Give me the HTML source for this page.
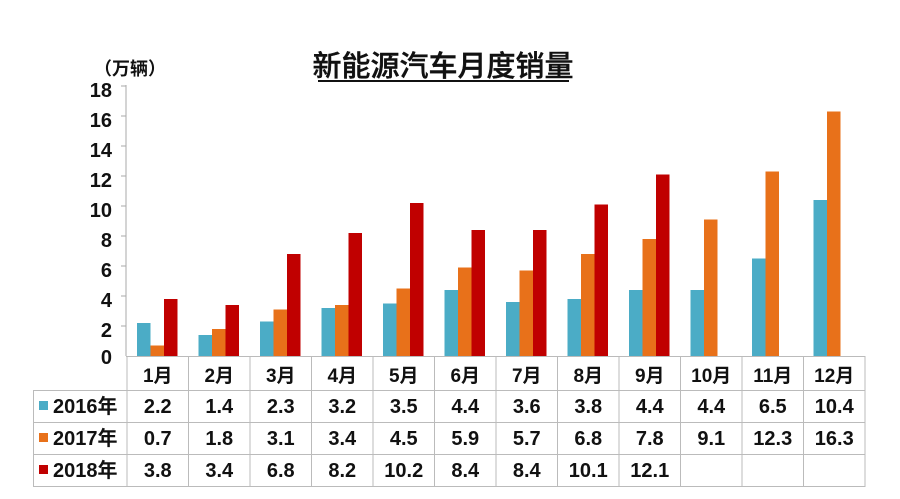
<!DOCTYPE html>
<html><head><meta charset="utf-8"><style>
html,body{margin:0;padding:0;background:#fff;}
svg{display:block;}
text{font-family:"Liberation Sans","Noto Sans CJK SC",sans-serif;font-weight:bold;fill:#111;}
</style></head><body>
<svg width="900" height="499" viewBox="0 0 900 499" xmlns="http://www.w3.org/2000/svg">
<text x="443" y="76" font-size="29" text-anchor="middle" style="font-weight:500" stroke="#111" stroke-width="0.4">新能源汽车月度销量</text>
<line x1="318" y1="81" x2="569" y2="81" stroke="#111" stroke-width="2"/>
<text x="94" y="75" font-size="18">（万辆）</text>
<g font-size="20" text-anchor="end">
<text x="112" y="97">18</text><text x="112" y="127">16</text><text x="112" y="157">14</text>
<text x="112" y="187">12</text><text x="112" y="217">10</text><text x="112" y="247">8</text>
<text x="112" y="277">6</text><text x="112" y="307">4</text><text x="112" y="337">2</text>
<text x="112" y="364">0</text>
</g>
<g stroke="#aaa" stroke-width="1">
<line x1="126" y1="85" x2="126" y2="356"/>
<line x1="121" y1="86" x2="126" y2="86"/><line x1="121" y1="116" x2="126" y2="116"/>
<line x1="121" y1="146" x2="126" y2="146"/><line x1="121" y1="176" x2="126" y2="176"/>
<line x1="121" y1="206" x2="126" y2="206"/><line x1="121" y1="236" x2="126" y2="236"/>
<line x1="121" y1="266" x2="126" y2="266"/><line x1="121" y1="296" x2="126" y2="296"/>
<line x1="121" y1="326" x2="126" y2="326"/>
</g>
<g transform="translate(0,356) scale(1,-1)">
<g fill="#4bacc6">
<rect x="137" y="0" width="13.5" height="33"/><rect x="198.5" y="0" width="13.5" height="21"/>
<rect x="260" y="0" width="13.5" height="34.5"/><rect x="321.5" y="0" width="13.5" height="48"/>
<rect x="383" y="0" width="13.5" height="52.5"/><rect x="444.5" y="0" width="13.5" height="66"/>
<rect x="506" y="0" width="13.5" height="54"/><rect x="567.5" y="0" width="13.5" height="57"/>
<rect x="629" y="0" width="13.5" height="66"/><rect x="690.5" y="0" width="13.5" height="66"/>
<rect x="752" y="0" width="13.5" height="97.5"/><rect x="813.5" y="0" width="13.5" height="156"/>
</g>
<g fill="#e8711a">
<rect x="150.5" y="0" width="13.5" height="10.5"/><rect x="212" y="0" width="13.5" height="27"/>
<rect x="273.5" y="0" width="13.5" height="46.5"/><rect x="335" y="0" width="13.5" height="51"/>
<rect x="396.5" y="0" width="13.5" height="67.5"/><rect x="458" y="0" width="13.5" height="88.5"/>
<rect x="519.5" y="0" width="13.5" height="85.5"/><rect x="581" y="0" width="13.5" height="102"/>
<rect x="642.5" y="0" width="13.5" height="117"/><rect x="704" y="0" width="13.5" height="136.5"/>
<rect x="765.5" y="0" width="13.5" height="184.5"/><rect x="827" y="0" width="13.5" height="244.5"/>
</g>
<g fill="#c00000">
<rect x="164" y="0" width="13.5" height="57"/><rect x="225.5" y="0" width="13.5" height="51"/>
<rect x="287" y="0" width="13.5" height="102"/><rect x="348.5" y="0" width="13.5" height="123"/>
<rect x="410" y="0" width="13.5" height="153"/><rect x="471.5" y="0" width="13.5" height="126"/>
<rect x="533" y="0" width="13.5" height="126"/><rect x="594.5" y="0" width="13.5" height="151.5"/>
<rect x="656" y="0" width="13.5" height="181.5"/>
</g>
</g>
<g stroke="#bbb" stroke-width="1">
<line x1="126" y1="356.5" x2="865" y2="356.5"/>
<line x1="33" y1="390.5" x2="865" y2="390.5"/>
<line x1="33" y1="422.5" x2="865" y2="422.5"/>
<line x1="33" y1="454.5" x2="865" y2="454.5"/>
<line x1="33" y1="486.5" x2="865" y2="486.5"/>
<line x1="33.5" y1="390" x2="33.5" y2="487"/>
<line x1="127" y1="356" x2="127" y2="487"/><line x1="188.5" y1="356" x2="188.5" y2="487"/>
<line x1="250" y1="356" x2="250" y2="487"/><line x1="311.5" y1="356" x2="311.5" y2="487"/>
<line x1="373" y1="356" x2="373" y2="487"/><line x1="434.5" y1="356" x2="434.5" y2="487"/>
<line x1="496" y1="356" x2="496" y2="487"/><line x1="557.5" y1="356" x2="557.5" y2="487"/>
<line x1="619" y1="356" x2="619" y2="487"/><line x1="680.5" y1="356" x2="680.5" y2="487"/>
<line x1="742" y1="356" x2="742" y2="487"/><line x1="803.5" y1="356" x2="803.5" y2="487"/>
<line x1="865" y1="356" x2="865" y2="487"/>
</g>
<g font-size="19" text-anchor="middle">
<text x="157.75" y="382">1月</text><text x="219.25" y="382">2月</text><text x="280.75" y="382">3月</text>
<text x="342.25" y="382">4月</text><text x="403.75" y="382">5月</text><text x="465.25" y="382">6月</text>
<text x="526.75" y="382">7月</text><text x="588.25" y="382">8月</text><text x="649.75" y="382">9月</text>
<text x="711.25" y="382">10月</text><text x="772.75" y="382">11月</text><text x="834.25" y="382">12月</text>
</g>
<rect x="39" y="401" width="9" height="9" fill="#4bacc6"/>
<rect x="39" y="433" width="9" height="9" fill="#e8711a"/>
<rect x="39" y="465" width="9" height="9" fill="#c00000"/>
<g font-size="20">
<text x="53" y="413">2016年</text><text x="53" y="445">2017年</text><text x="53" y="477">2018年</text>
</g>
<g font-size="20" text-anchor="middle">
<text x="157.75" y="413">2.2</text><text x="219.25" y="413">1.4</text><text x="280.75" y="413">2.3</text>
<text x="342.25" y="413">3.2</text><text x="403.75" y="413">3.5</text><text x="465.25" y="413">4.4</text>
<text x="526.75" y="413">3.6</text><text x="588.25" y="413">3.8</text><text x="649.75" y="413">4.4</text>
<text x="711.25" y="413">4.4</text><text x="772.75" y="413">6.5</text><text x="834.25" y="413">10.4</text>
<text x="157.75" y="445">0.7</text><text x="219.25" y="445">1.8</text><text x="280.75" y="445">3.1</text>
<text x="342.25" y="445">3.4</text><text x="403.75" y="445">4.5</text><text x="465.25" y="445">5.9</text>
<text x="526.75" y="445">5.7</text><text x="588.25" y="445">6.8</text><text x="649.75" y="445">7.8</text>
<text x="711.25" y="445">9.1</text><text x="772.75" y="445">12.3</text><text x="834.25" y="445">16.3</text>
<text x="157.75" y="477">3.8</text><text x="219.25" y="477">3.4</text><text x="280.75" y="477">6.8</text>
<text x="342.25" y="477">8.2</text><text x="403.75" y="477">10.2</text><text x="465.25" y="477">8.4</text>
<text x="526.75" y="477">8.4</text><text x="588.25" y="477">10.1</text><text x="649.75" y="477">12.1</text>
</g>
</svg>
</body></html>
